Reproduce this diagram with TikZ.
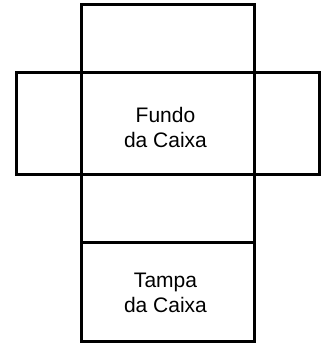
\documentclass[tikz,border=0pt]{standalone}
\usepackage{fontspec}
\setmainfont{Liberation Sans}
\begin{document}
\begin{tikzpicture}[x=1pt,y=-1pt,
  face/.style={draw=black,line width=3pt,rectangle,inner sep=0pt},
  lbl/.style={inner sep=0pt,align=center,font=\fontsize{21}{25}\selectfont}]
\useasboundingbox (0,0) rectangle (325,345);
\node[face,minimum width=173pt,minimum height=67.5pt] (top) at (167.5,38.75) {};
\node[face,minimum width=65pt,minimum height=101.5pt] (left) at (48.5,123.25) {};
\node[face,minimum width=65pt,minimum height=101.5pt] (right) at (286.5,123.25) {};
\node[face,minimum width=173pt,minimum height=101.5pt] (fundo) at (167.5,123.25) {};
\node[face,minimum width=173pt,minimum height=68pt] (lower) at (167.5,208) {};
\node[face,minimum width=173pt,minimum height=99pt] (tampa) at (167.5,291.5) {};
\node[lbl] (fundotext) at (165.5,127.5) {Fundo\\da Caixa};
\node[lbl] (tampatext) at (165.5,293.3) {Tampa\\da Caixa};
\end{tikzpicture}
\end{document}
